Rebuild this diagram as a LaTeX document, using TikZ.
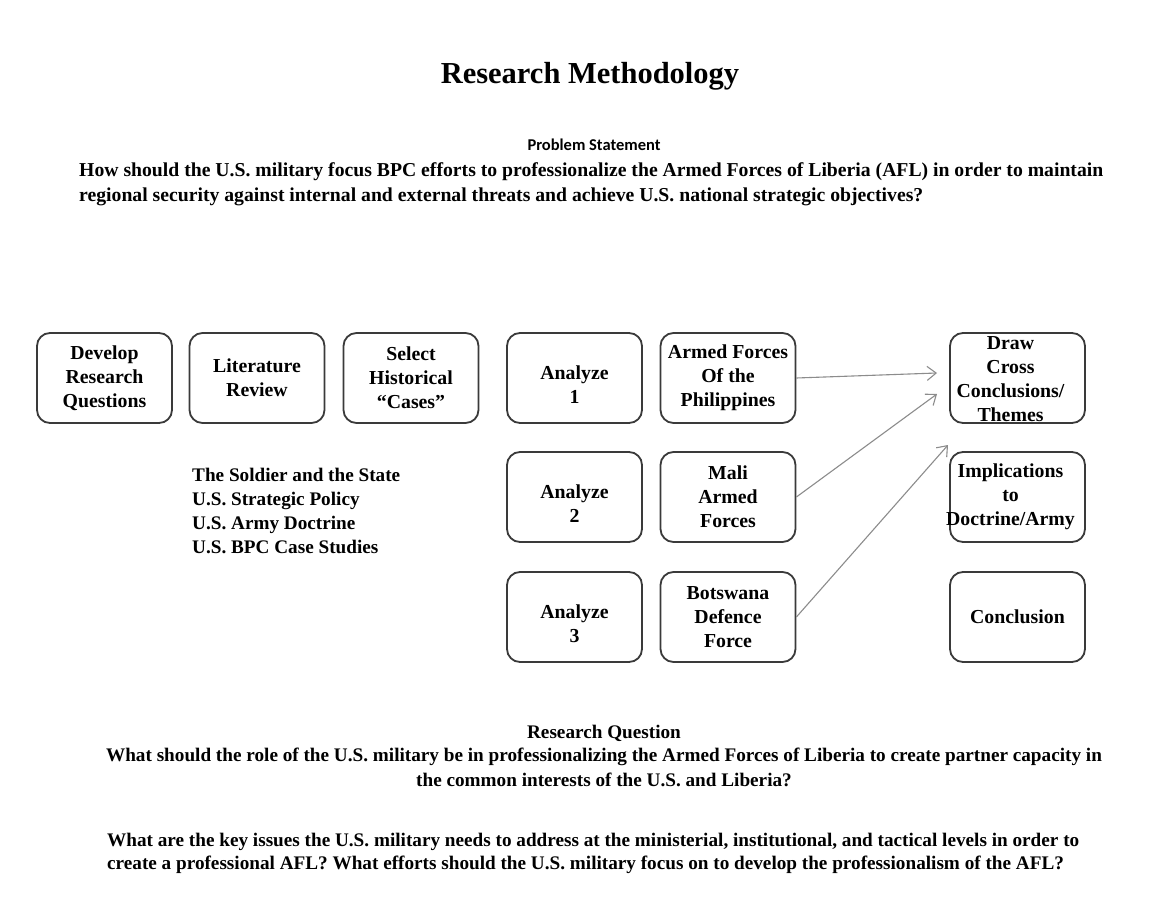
\documentclass[tikz,border=0pt]{standalone}
\usepackage{fontspec}
\setmainfont{Liberation Serif}
\newfontfamily\psheadfont{Carlito}
\usetikzlibrary{arrows.meta}
\definecolor{boxline}{HTML}{3A3A3A}
\definecolor{arrowgray}{HTML}{8C8C8C}
\newcommand\myboxfont{\fontsize{19.8}{24}\selectfont\bfseries}
\newcommand\mybodyfont{\fontsize{19.2}{24}\selectfont\bfseries}
\newcommand\mypsfont{\fontsize{19.7}{24}\selectfont\bfseries}
\begin{document}
\begin{tikzpicture}[x=1pt,y=-1pt,
  box/.style={draw=boxline, line width=1.8pt, rounded corners=13pt,
    minimum width=135pt, minimum height=90pt, inner sep=0pt,
    align=center, font=\myboxfont, text=black},
  boxlbl/.style={inner sep=0pt, align=center, font=\myboxfont, text=black},
  txt/.style={inner sep=0pt, font=\mybodyfont, text=black},
  arr/.style={draw=arrowgray, line width=1.1pt,
    -{Straight Barb[length=9pt,width=14pt,line width=1.1pt]}}]
\fill[white] (0,0) rectangle (1162,907);
\useasboundingbox (0,0) rectangle (1162,907);

% title and problem statement
\node[txt, anchor=base, font=\fontsize{30.5}{36}\selectfont\bfseries] (title) at (590,84) {Research Methodology};
\node[txt, anchor=base, font=\psheadfont\fontsize{16.5}{20}\selectfont\bfseries] (pshead) at (594,150) {Problem Statement};
\node[txt, anchor=base west, font=\mypsfont] (ps1) at (79,176) {How should the U.S. military focus BPC efforts to professionalize the Armed Forces of Liberia (AFL) in order to maintain};
\node[txt, anchor=base west, font=\mypsfont] (ps2) at (79,201) {regional security against internal and external threats and achieve U.S. national strategic objectives?};

% first row
\node[box] (dev) at (104.5,378) {Develop\\Research\\Questions};
\node[box] (lit) at (257,378) {Literature\\Review};
\node[box] (sel) at (411,378) {Select\\Historical\\``Cases''};

% analyze column
\node[box, label={[boxlbl, yshift=-7pt]center:{Analyze\\1}}] (a1) at (574.5,378) {};
\node[box, label={[boxlbl, yshift=-7pt]center:{Analyze\\2}}] (a2) at (574.5,497) {};
\node[box, label={[boxlbl, yshift=-7pt]center:{Analyze\\3}}] (a3) at (574.5,617) {};

% cases column
\node[box] (phil) at (728,378) {Armed Forces\\Of the\\Philippines};
\node[box] (mali) at (728,497) {Mali\\Armed\\Forces};
\node[box] (bots) at (728,617) {Botswana\\Defence\\Force};

% right column
\node[box, label={[boxlbl, xshift=-7pt, yshift=-1pt]center:{Draw\\Cross\\Conclusions/\\Themes}}] (cross) at (1017.5,378) {};
\node[box, label={[boxlbl, xshift=-7pt]center:{Implications\\to\\Doctrine/Army}}] (impl) at (1017.5,497) {};
\node[box] (concl) at (1017.5,617) {Conclusion};

% literature list
\node[txt, anchor=base west] (lit1) at (192,481) {The Soldier and the State};
\node[txt, anchor=base west] (lit2) at (192,505) {U.S. Strategic Policy};
\node[txt, anchor=base west] (lit3) at (192,529) {U.S. Army Doctrine};
\node[txt, anchor=base west] (lit4) at (192,553) {U.S. BPC Case Studies};

% arrows
\coordinate (t1) at (937,373);
\coordinate (t2) at (937,394);
\coordinate (t3) at (948,445);
\draw[arr] (phil.east) -- (t1);
\draw[arr] (mali.east) -- (t2);
\draw[arr] (bots.east) -- (t3);

% research question
\node[txt, anchor=base] (rqhead) at (604,738) {Research Question};
\node[txt, anchor=base] (rq1) at (604,761) {What should the role of the U.S. military be in professionalizing the Armed Forces of Liberia to create partner capacity in};
\node[txt, anchor=base] (rq2) at (604,786) {the common interests of the U.S. and Liberia?};
\node[txt, anchor=base west] (rq3) at (107,846) {What are the key issues the U.S. military needs to address at the ministerial, institutional, and tactical levels in order to};
\node[txt, anchor=base west] (rq4) at (107,869) {create a professional AFL? What efforts should the U.S. military focus on to develop the professionalism of the AFL?};
\end{tikzpicture}
\end{document}
